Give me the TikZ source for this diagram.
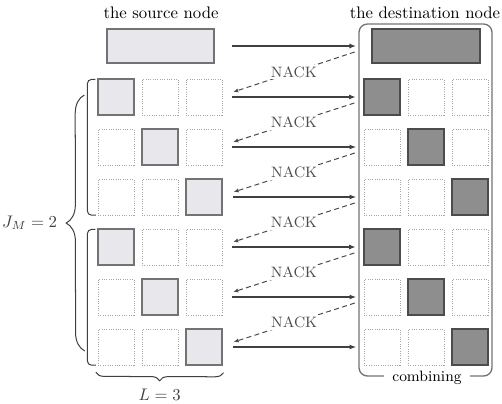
\documentclass[tikz,border=0pt]{standalone}
\usepackage{xcolor}
\usepackage{tikz}
\usetikzlibrary{shapes,arrows,positioning,calc,decorations.pathreplacing,arrows.meta}

\definecolor{lightpkt}{HTML}{E8E8EC}
\definecolor{darkpkt}{HTML}{8E8E8E}

\begin{document}
\begin{tikzpicture}[x=0.021cm, y=-0.021cm,
        cell/.style={draw=black!35, densely dotted, minimum size=0.75cm, inner sep=0pt},
        srccell/.style={draw=black!55, line width=0.9pt, fill=lightpkt, minimum size=0.75cm, inner sep=0pt},
        dstcell/.style={draw=black!70, line width=0.9pt, fill=darkpkt, minimum size=0.75cm, inner sep=0pt},
        fwd/.style={-{Latex[length=4pt,width=3pt]}, line width=0.8pt, black!75, shorten <=6pt, shorten >=4.5pt},
        nack/.style={-{Latex[length=3pt,width=2.5pt]}, densely dashed, line width=0.6pt, black!70},
        nacklbl/.style={fill=white, font=\small, inner xsep=3pt, inner ysep=1pt},
        brc/.style={decorate, decoration={brace, amplitude=#1}, black!75, line width=0.6pt},
        grp/.style={rounded corners=2.5pt, black!75, line width=0.6pt}]
    \useasboundingbox (0,0) rectangle (502,403);

    % Headings
    \node (lsrc) at (161,13) {the source node};
    \node (ldst) at (425,13) {the destination node};

    % Destination (combining)
    \draw[black!55, line width=0.8pt, rounded corners=5pt] (359,24) rectangle (492,376);
    \node[fill=white, font=\small, inner xsep=5pt, inner ysep=1pt] (comb) at (427,378) {combining};

    % Whole packet
    \node[srccell, minimum width=2.25cm, minimum height=0.71cm] (s0) at (160.5,46) {};
    \node[dstcell, minimum width=2.27cm, minimum height=0.71cm] (d0) at (426,46) {};
    \node[inner sep=0pt, minimum size=0pt] (s03) at (s0.east -| 222,0) {};
    \node[inner sep=0pt, minimum size=0pt] (d01) at (d0.west -| 364,0) {};

    % Sub-packets
    \foreach \r in {1,...,6}{
        \pgfmathtruncatemacro{\hit}{mod(\r-1,3)+1}
        \foreach \c in {1,2,3}{
            \ifnum\c=\hit
                \node[srccell] (s\r\c) at ({72+44*\c},{47+50*\r}) {};
                \node[dstcell] (d\r\c) at ({338+44*\c},{47+50*\r}) {};
            \else
                \node[cell] (s\r\c) at ({72+44*\c},{47+50*\r}) {};
                \node[cell] (d\r\c) at ({338+44*\c},{47+50*\r}) {};
            \fi
        }
    }

    % Transmissions and NACKs
    \foreach \r in {0,...,6}
        \draw[fwd] (s\r3.east) -- (d\r1.west);
    \foreach \r in {0,...,5}{
        \pgfmathtruncatemacro{\n}{\r+1}
        \draw[nack] ($(d\r1.west)+(-9,6)$) -- node[nacklbl] {NACK} ($(s\n3.east)+(11,-5)$);
    }

    % Groups
    \draw[grp] ($(s11.north west)+(-2,1)$) -- ++(-8,0) |- ($(s31.south west)+(-2,0)$);
    \draw[grp] ($(s41.north west)+(-2,1)$) -- ++(-8,0) |- ($(s61.south west)+(-2,0)$);
    \draw[brc=11pt] ($(s61.west)+(-13,4)$) -- node[left=0.45cm] {$J_M = 2$} ($(s11.west)+(-13,-2)$);
    \draw[brc=5pt] ($(s63.south east)+(1,7)$) -- node[below=0.22cm] {$L = 3$} ($(s61.south west)+(-2,7)$);
\end{tikzpicture}
\end{document}
